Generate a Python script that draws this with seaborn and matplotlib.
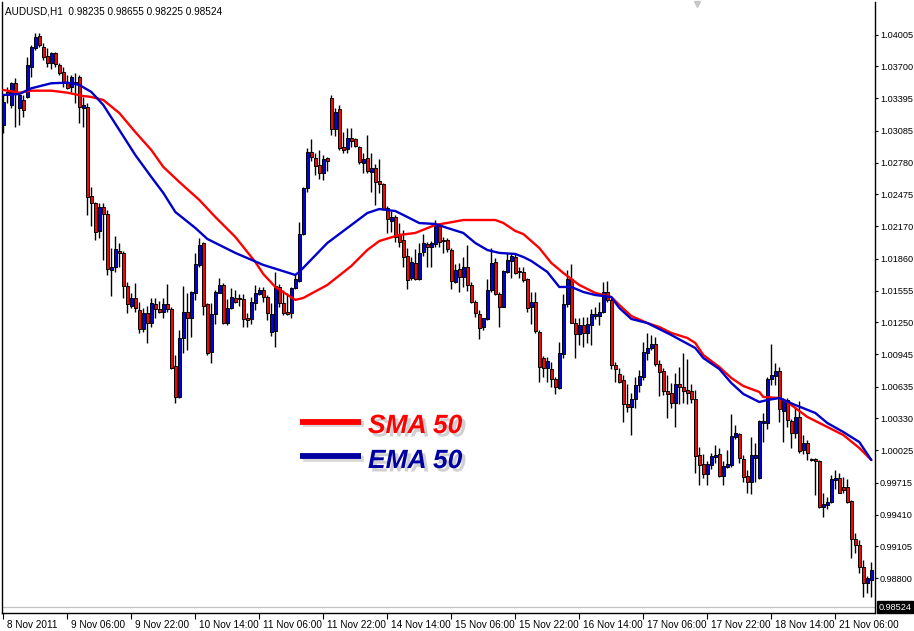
import numpy as np
import matplotlib
matplotlib.use("Agg")
import matplotlib.pyplot as plt
import matplotlib.patheffects as pe
import matplotlib.transforms as mtransforms
from matplotlib.lines import Line2D
import seaborn as sns

# AUDUSD H1 candles (open, high, low, close), one entry per bar
bar_open = [
    1.03140, 1.03456, 1.03331, 1.03542, 1.03302, 1.03379, 1.03408, 1.03695, 1.03877, 1.03991,
    1.03886, 1.03800, 1.03733, 1.03829, 1.03714, 1.03647, 1.03542, 1.03503, 1.03551, 1.03599,
    1.03302, 1.03312, 1.02460, 1.02393, 1.02125, 1.02355, 1.02288, 1.01752, 1.01781, 1.01934,
    1.01915, 1.01599, 1.01408, 1.01484, 1.01369, 1.01187, 1.01341, 1.01245, 1.01427, 1.01379,
    1.01350, 1.01427, 1.01379, 1.00833, 1.00537, 1.01101, 1.01350, 1.01293, 1.01532, 1.01800,
    1.02010, 1.01427, 1.00967, 1.01331, 1.01532, 1.01609, 1.01245, 1.01388, 1.01484, 1.01484,
    1.01474, 1.01293, 1.01283, 1.01436, 1.01522, 1.01561, 1.01493, 1.01159, 1.01168, 1.01589,
    1.01436, 1.01350, 1.01341, 1.01580, 1.01647, 1.02096, 1.02537, 1.02881, 1.02824, 1.02757,
    1.02680, 1.02824, 1.03398, 1.03101, 1.03293, 1.02929, 1.02910, 1.03015, 1.03006, 1.02929,
    1.02776, 1.02824, 1.02690, 1.02728, 1.02604, 1.02575, 1.02345, 1.02221, 1.02259, 1.02096,
    1.02039, 1.01886, 1.01675, 1.01819, 1.01666, 1.01924, 1.02001, 1.01972, 1.02001, 1.02173,
    1.02039, 1.02039, 1.01943, 1.01637, 1.01762, 1.01685, 1.01781, 1.01609, 1.01446, 1.01331,
    1.01207, 1.01283, 1.01561, 1.01828, 1.01522, 1.01398, 1.01733, 1.01838, 1.01876, 1.01742,
    1.01733, 1.01666, 1.01398, 1.01446, 1.01159, 1.00910, 1.00814, 1.00804, 1.00709, 1.00623,
    1.00948, 1.01427, 1.01666, 1.01245, 1.01139, 1.01226, 1.01149, 1.01226, 1.01312, 1.01312,
    1.01350, 1.01542, 1.01465, 1.00843, 1.00757, 1.00699, 1.00469, 1.00440, 1.00517, 1.00651,
    1.00728, 1.00958, 1.01005, 1.01044, 1.00852, 1.00785, 1.00594, 1.00575, 1.00479, 1.00661,
    1.00632, 1.00603, 1.00594, 1.00517, 0.99982, 0.99896, 0.99800, 0.99886, 0.99963, 0.99991,
    0.99781, 0.99867, 0.99886, 1.00153, 1.00182, 0.99943, 0.99781, 0.99723, 0.99953, 0.99762,
    1.00288, 1.00288, 1.00709, 1.00737, 1.00785, 1.00402, 1.00508, 1.00307, 1.00192, 1.00345,
    1.00029, 1.00096, 0.99943, 0.99943, 0.99924, 0.99484, 0.99503, 0.99532, 0.99742, 0.99762,
    0.99675, 0.99675, 0.99541, 0.99177, 0.99120, 0.98909, 0.98755, 0.98784,
]
bar_high = [
    1.03427, 1.03503, 1.03551, 1.03590, 1.03436, 1.03427, 1.03791, 1.03905, 1.04020, 1.04020,
    1.03924, 1.03877, 1.03838, 1.03838, 1.03733, 1.03695, 1.03618, 1.03618, 1.03637, 1.03618,
    1.03408, 1.03350, 1.02546, 1.02403, 1.02393, 1.02393, 1.02326, 1.01963, 1.02077, 1.02010,
    1.01934, 1.01637, 1.01532, 1.01628, 1.01446, 1.01388, 1.01408, 1.01484, 1.01484, 1.01455,
    1.01484, 1.01618, 1.01398, 1.00939, 1.01178, 1.01599, 1.01532, 1.01551, 1.01915, 1.02058,
    1.02020, 1.01436, 1.01436, 1.01561, 1.01675, 1.01628, 1.01474, 1.01580, 1.01561, 1.01522,
    1.01522, 1.01341, 1.01493, 1.01609, 1.01589, 1.01589, 1.01513, 1.01436, 1.01733, 1.01618,
    1.01561, 1.01532, 1.01589, 1.01704, 1.02211, 1.02546, 1.02920, 1.03006, 1.02872, 1.02901,
    1.02853, 1.02833, 1.03427, 1.03302, 1.03331, 1.03073, 1.03111, 1.03111, 1.03015, 1.02939,
    1.02872, 1.03044, 1.02872, 1.02767, 1.02814, 1.02585, 1.02365, 1.02317, 1.02278, 1.02202,
    1.02135, 1.01963, 1.01876, 1.01953, 1.02010, 1.02096, 1.02020, 1.02029, 1.02230, 1.02202,
    1.02068, 1.02058, 1.01963, 1.01809, 1.01819, 1.01876, 1.01991, 1.01637, 1.01465, 1.01369,
    1.01293, 1.01666, 1.01963, 1.01867, 1.01542, 1.01752, 1.01915, 1.01915, 1.01915, 1.01781,
    1.01781, 1.01675, 1.01542, 1.01542, 1.01178, 1.00929, 1.00919, 1.00872, 1.00728, 1.01063,
    1.01522, 1.01752, 1.01809, 1.01293, 1.01293, 1.01302, 1.01302, 1.01379, 1.01398, 1.01446,
    1.01637, 1.01647, 1.01484, 1.00872, 1.00814, 1.00747, 1.00661, 1.00575, 1.00728, 1.00795,
    1.01063, 1.01149, 1.01130, 1.01111, 1.00891, 1.00814, 1.00747, 1.00670, 1.00766, 1.00823,
    1.00958, 1.00900, 1.00661, 1.00603, 1.00058, 0.99991, 0.99924, 1.00001, 1.00077, 1.00049,
    0.99924, 1.00029, 1.00374, 1.00269, 1.00192, 0.99982, 0.99838, 1.00154, 1.00096, 1.00317,
    1.00384, 1.00728, 1.01044, 1.00862, 1.00823, 1.00527, 1.00527, 1.00326, 1.00431, 1.00498,
    1.00172, 1.00125, 0.99953, 0.99953, 0.99934, 0.99618, 0.99580, 0.99790, 0.99838, 0.99809,
    0.99771, 0.99752, 0.99551, 0.99235, 0.99168, 0.98976, 0.98823, 0.98957,
]
bar_low = [
    1.03063, 1.03350, 1.03302, 1.03121, 1.03140, 1.03216, 1.03398, 1.03599, 1.03857, 1.03886,
    1.03762, 1.03695, 1.03676, 1.03695, 1.03618, 1.03503, 1.03484, 1.03456, 1.03350, 1.03159,
    1.03121, 1.02278, 1.02173, 1.02039, 1.02058, 1.01848, 1.01704, 1.01503, 1.01733, 1.01781,
    1.01484, 1.01341, 1.01388, 1.01350, 1.01149, 1.01159, 1.01053, 1.01207, 1.01293, 1.01341,
    1.01293, 1.01350, 1.00804, 1.00479, 1.00527, 1.00958, 1.00987, 1.01111, 1.01465, 1.01781,
    1.01321, 1.00939, 1.00862, 1.01235, 1.01532, 1.01235, 1.01226, 1.01379, 1.01436, 1.01408,
    1.01207, 1.01207, 1.01235, 1.01369, 1.01513, 1.01446, 1.01274, 1.01120, 1.01015, 1.01398,
    1.01321, 1.01321, 1.01293, 1.01570, 1.01637, 1.02087, 1.02499, 1.02795, 1.02661, 1.02623,
    1.02613, 1.02699, 1.03044, 1.03034, 1.02901, 1.02872, 1.02872, 1.02929, 1.02929, 1.02767,
    1.02680, 1.02680, 1.02499, 1.02374, 1.02489, 1.02326, 1.02106, 1.02116, 1.02020, 1.01972,
    1.01781, 1.01570, 1.01656, 1.01656, 1.01656, 1.01886, 1.01781, 1.01781, 1.01972, 1.01972,
    1.01915, 1.01924, 1.01570, 1.01628, 1.01542, 1.01589, 1.01551, 1.01436, 1.01302, 1.01092,
    1.01178, 1.01274, 1.01542, 1.01513, 1.01207, 1.01398, 1.01723, 1.01675, 1.01714, 1.01675,
    1.01637, 1.01350, 1.01235, 1.01149, 1.00680, 1.00728, 1.00680, 1.00632, 1.00565, 1.00613,
    1.00910, 1.01398, 1.01245, 1.00910, 1.01034, 1.01015, 1.01053, 1.01034, 1.01283, 1.01226,
    1.01341, 1.01446, 1.00804, 1.00680, 1.00670, 1.00297, 1.00393, 1.00172, 1.00431, 1.00585,
    1.00699, 1.00891, 1.00987, 1.00833, 1.00546, 1.00556, 1.00336, 1.00431, 1.00250, 1.00469,
    1.00479, 1.00469, 1.00479, 0.99809, 0.99695, 0.99762, 0.99695, 0.99848, 0.99905, 0.99771,
    0.99695, 0.99857, 0.99867, 1.00135, 0.99905, 0.99723, 0.99618, 0.99609, 0.99723, 0.99752,
    1.00106, 1.00230, 1.00651, 1.00651, 1.00297, 1.00106, 1.00250, 1.00049, 1.00144, 1.00001,
    0.99991, 0.99933, 0.99924, 0.99599, 0.99474, 0.99388, 0.99465, 0.99522, 0.99656, 0.99618,
    0.99618, 0.99522, 0.98995, 0.99043, 0.98851, 0.98621, 0.98660, 0.98621,
]
bar_close = [
    1.03360, 1.03427, 1.03542, 1.03446, 1.03427, 1.03283, 1.03714, 1.03886, 1.03982, 1.03905,
    1.03791, 1.03733, 1.03829, 1.03723, 1.03637, 1.03542, 1.03494, 1.03599, 1.03542, 1.03312,
    1.03331, 1.02451, 1.02393, 1.02116, 1.02355, 1.02288, 1.01762, 1.01781, 1.01953, 1.01915,
    1.01599, 1.01427, 1.01484, 1.01388, 1.01187, 1.01341, 1.01245, 1.01436, 1.01379, 1.01350,
    1.01427, 1.01379, 1.00814, 1.00537, 1.01101, 1.01350, 1.01293, 1.01542, 1.01809, 1.01991,
    1.01408, 1.00958, 1.01331, 1.01542, 1.01609, 1.01245, 1.01388, 1.01493, 1.01446, 1.01474,
    1.01283, 1.01274, 1.01446, 1.01532, 1.01561, 1.01493, 1.01341, 1.01331, 1.01599, 1.01436,
    1.01341, 1.01331, 1.01580, 1.01666, 1.02096, 1.02537, 1.02881, 1.02833, 1.02747, 1.02680,
    1.02814, 1.02795, 1.03101, 1.03264, 1.02920, 1.02901, 1.03015, 1.02986, 1.02939, 1.02786,
    1.02814, 1.02699, 1.02728, 1.02594, 1.02575, 1.02336, 1.02240, 1.02259, 1.02068, 1.02020,
    1.01876, 1.01656, 1.01828, 1.01666, 1.01915, 1.02010, 1.01972, 1.02010, 1.02183, 1.02020,
    1.02029, 1.01953, 1.01647, 1.01752, 1.01685, 1.01781, 1.01609, 1.01446, 1.01341, 1.01197,
    1.01293, 1.01561, 1.01819, 1.01522, 1.01398, 1.01742, 1.01848, 1.01886, 1.01723, 1.01733,
    1.01656, 1.01388, 1.01446, 1.01168, 1.00823, 1.00814, 1.00881, 1.00709, 1.00632, 1.00958,
    1.01427, 1.01666, 1.01245, 1.01139, 1.01226, 1.01149, 1.01235, 1.01331, 1.01331, 1.01350,
    1.01542, 1.01465, 1.00843, 1.00804, 1.00680, 1.00469, 1.00440, 1.00517, 1.00651, 1.00737,
    1.00967, 1.01005, 1.01044, 1.00852, 1.00776, 1.00594, 1.00565, 1.00479, 1.00661, 1.00632,
    1.00594, 1.00575, 1.00517, 0.99972, 0.99886, 0.99800, 0.99896, 0.99972, 0.99982, 0.99781,
    0.99876, 0.99896, 1.00163, 1.00192, 0.99953, 0.99771, 0.99723, 0.99982, 0.99982, 1.00307,
    1.00307, 1.00709, 1.00747, 1.00785, 1.00421, 1.00508, 1.00316, 1.00192, 1.00345, 1.00020,
    1.00096, 1.00001, 0.99934, 0.99924, 0.99484, 0.99513, 0.99532, 0.99752, 0.99762, 0.99618,
    0.99647, 0.99532, 0.99177, 0.99120, 0.98909, 0.98755, 0.98803, 0.98880,
]

# moving averages at selected bars
sma_bar = [0, 4, 7, 12, 16, 20, 22, 25, 29, 33, 37, 40, 44, 49, 53, 58, 63, 65, 68, 73,
           75, 81, 87, 91, 94, 99, 103, 108, 111, 115, 123, 125, 128, 130, 134, 137, 140, 144, 148, 152,
           154, 157, 161, 164, 167, 171, 173, 175, 179, 182, 185, 189, 190, 194, 196, 201, 206, 210, 214, 217]
sma_50 = [1.03475, 1.03449, 1.03468, 1.03468, 1.03449, 1.03417, 1.03408, 1.03379, 1.03254, 1.03072,
          1.02900, 1.02738, 1.02594, 1.02422, 1.02259, 1.02068, 1.01828, 1.01713, 1.01589, 1.01465,
          1.01484, 1.01608, 1.01790, 1.01943, 1.02029, 1.02087, 1.02106, 1.02183, 1.02202, 1.02230,
          1.02230, 1.02202, 1.02125, 1.02096, 1.01962, 1.01819, 1.01723, 1.01608, 1.01532, 1.01493,
          1.01417, 1.01311, 1.01244, 1.01206, 1.01149, 1.01101, 1.01053, 1.00938, 1.00823, 1.00718,
          1.00641, 1.00584, 1.00536, 1.00526, 1.00488, 1.00345, 1.00249, 1.00172, 1.00048, 0.99933]

ema_bar = [0, 4, 7, 12, 16, 19, 22, 25, 29, 33, 37, 40, 43, 48, 51, 58, 65, 73, 74, 81,
           87, 91, 94, 98, 101, 104, 108, 111, 115, 118, 121, 124, 128, 130, 132, 136, 139, 142, 145, 148,
           152, 154, 157, 161, 167, 173, 175, 179, 182, 185, 189, 191, 194, 198, 203, 206, 210, 214, 217]
ema_50 = [1.03427, 1.03436, 1.03491, 1.03539, 1.03545, 1.03523, 1.03456, 1.03331, 1.03092, 1.02852,
          1.02642, 1.02489, 1.02307, 1.02154, 1.02049, 1.01915, 1.01800, 1.01704, 1.01733, 1.02010,
          1.02182, 1.02297, 1.02335, 1.02316, 1.02259, 1.02201, 1.02192, 1.02154, 1.02106, 1.02010,
          1.01943, 1.01915, 1.01905, 1.01876, 1.01838, 1.01733, 1.01589, 1.01589, 1.01541, 1.01512,
          1.01493, 1.01388, 1.01283, 1.01244, 1.01129, 1.01005, 1.00909, 1.00804, 1.00670, 1.00565,
          1.00488, 1.00507, 1.00526, 1.00459, 1.00383, 1.00287, 1.00201, 1.00105, 0.99933]

price_ticks = [1.04005, 1.03700, 1.03395, 1.03085, 1.02780, 1.02475, 1.02170, 1.01860, 1.01555,
               1.01250, 1.00945, 1.00635, 1.00330, 1.00025, 0.99715, 0.99410, 0.99105, 0.98800]
time_labels = ["8 Nov 2011", "9 Nov 06:00", "9 Nov 22:00", "10 Nov 14:00", "11 Nov 06:00",
               "11 Nov 22:00", "14 Nov 14:00", "15 Nov 06:00", "15 Nov 22:00", "16 Nov 14:00",
               "17 Nov 06:00", "17 Nov 22:00", "18 Nov 14:00", "21 Nov 06:00"]
time_label_step = 16
header = "AUDUSD,H1  0.98235 0.98655 0.98225 0.98524"
last_price = 0.98524

BULL = "#0000e6"
BEAR = "#ff0000"

sns.set_theme(style="white", rc={"axes.edgecolor": "black"})
plt.rcParams["font.family"] = ["Liberation Sans", "DejaVu Sans"]

fig = plt.figure(figsize=(9.14, 6.31), dpi=100)
ax = fig.add_axes([2 / 914, 18 / 631, 873 / 914, 611 / 631])

o = np.array(bar_open)
h = np.array(bar_high)
l = np.array(bar_low)
c = np.array(bar_close)
idx = np.arange(len(o))
body_colors = np.where(c >= o, BULL, BEAR)

ax.axhline(last_price, color="#c0c0c0", lw=0.9, zorder=1)
ax.vlines(idx, l, h, color="black", lw=1.0, zorder=2)
ax.bar(idx, np.abs(c - o), bottom=np.minimum(o, c), width=0.72,
       color=body_colors, edgecolor="black", linewidth=0.7, zorder=3)

sns.lineplot(x=sma_bar, y=sma_50, color="#ff0000", lw=1.7, ax=ax, zorder=4)
sns.lineplot(x=ema_bar, y=ema_50, color="#0000c8", lw=1.7, ax=ax, zorder=5)

ax.set_xlim(-0.33, 217.93)
ax.set_ylim(0.98468, 1.04317)
ax.set_xlabel("")
ax.set_ylabel("")

# axes / ticks in MT4 fashion
ax.spines["top"].set_visible(False)
for side in ("left", "right", "bottom"):
    ax.spines[side].set_color("black")
    ax.spines[side].set_linewidth(1.0)

ax.yaxis.tick_right()
ax.set_yticks(price_ticks, labels=[f"{p:.5f}" for p in price_ticks])
ax.set_xticks(np.arange(len(time_labels)) * time_label_step, labels=time_labels)
ax.tick_params(axis="y", which="both", right=True, left=False, length=2.5, width=0.8,
               direction="out", pad=1, labelsize=6.6, colors="black")
ax.tick_params(axis="x", which="both", bottom=True, length=4, width=0.8,
               direction="out", pad=1, labelsize=7.2, colors="black")
shift = mtransforms.ScaledTranslation(3 / 72, 0, fig.dpi_scale_trans)
for lab in ax.get_xticklabels():
    lab.set_horizontalalignment("left")
    lab.set_transform(lab.get_transform() + shift)

ax.text(0.003, 0.993, header, transform=ax.transAxes, ha="left", va="top",
        fontsize=7.2, color="black")

# chart shift marker
marker_tf = mtransforms.blended_transform_factory(ax.transData, ax.transAxes)
ax.plot([173.4], [0.997], marker="v", ms=5, color="#c8c8c8", transform=marker_tf,
        clip_on=False, zorder=6)

# current price box on the price scale
price_tf = mtransforms.blended_transform_factory(ax.transAxes, ax.transData)
ax.text(1.004, last_price, f"{last_price:.5f}", transform=price_tf, ha="left", va="center",
        fontsize=6.6, color="white", clip_on=False, zorder=7,
        bbox=dict(boxstyle="square,pad=0.2", fc="black", ec="black"))

# legend drawn as in the picture
line_fx = [pe.SimpleLineShadow(offset=(2, -2), shadow_color="#909090", alpha=0.35), pe.Normal()]
text_fx = [pe.withSimplePatchShadow(offset=(2.5, -2.5), shadow_rgbFace="#8a8a8a", alpha=0.4)]
fig.add_artist(Line2D([300 / 914, 361 / 914], [1 - 421.7 / 631] * 2, transform=fig.transFigure,
                      color="#ff0000", lw=4.2, solid_capstyle="butt", path_effects=line_fx))
fig.add_artist(Line2D([300 / 914, 361 / 914], [1 - 456 / 631] * 2, transform=fig.transFigure,
                      color="#0000a0", lw=4.2, solid_capstyle="butt", path_effects=line_fx))
fig.text(368 / 914, 1 - 433 / 631, "SMA 50", color="#ff0000", fontsize=19,
         fontweight="bold", fontstyle="italic", ha="left", va="baseline", path_effects=text_fx)
fig.text(368 / 914, 1 - 468 / 631, "EMA 50", color="#0000a0", fontsize=19,
         fontweight="bold", fontstyle="italic", ha="left", va="baseline", path_effects=text_fx)

fig.savefig("out.png", dpi=100, facecolor="white")
plt.close(fig)
